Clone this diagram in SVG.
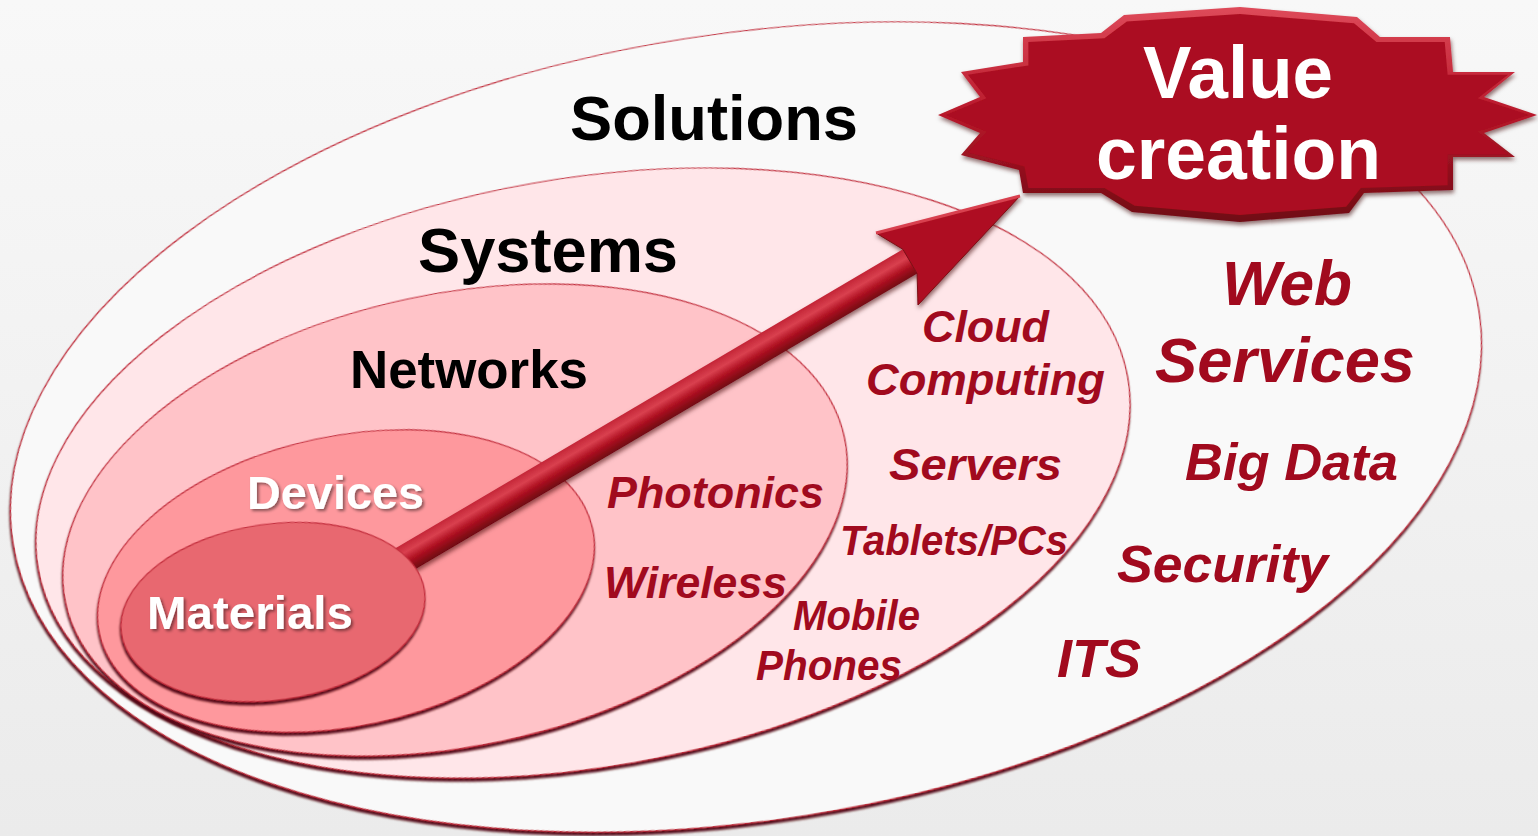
<svg xmlns="http://www.w3.org/2000/svg" width="1538" height="836" viewBox="0 0 1538 836">
<defs>
<linearGradient id="bg" x1="0" y1="0" x2="0" y2="1">
<stop offset="0" stop-color="#f8f8f8"/><stop offset="1" stop-color="#ebebeb"/>
</linearGradient>
<linearGradient id="shaft" gradientUnits="userSpaceOnUse" x1="402.9" y1="543.9" x2="417.1" y2="568.1">
<stop offset="0" stop-color="#c52738"/><stop offset="0.3" stop-color="#d9404f"/><stop offset="0.6" stop-color="#b01222"/><stop offset="1" stop-color="#6e0610"/>
</linearGradient>
<linearGradient id="bevel" x1="0" y1="0" x2="0" y2="1">
<stop offset="0" stop-color="#de4a5a"/><stop offset="0.5" stop-color="#b8192b"/><stop offset="1" stop-color="#6f0812"/>
</linearGradient>
<filter id="esh" x="-5%" y="-5%" width="110%" height="115%">
<feDropShadow dx="-1" dy="3" stdDeviation="1.1" flood-color="#4d0309" flood-opacity="0.95"/>
</filter>
<filter id="ash" x="-10%" y="-10%" width="120%" height="130%">
<feDropShadow dx="1" dy="3" stdDeviation="2" flood-color="#3a0005" flood-opacity="0.55"/>
</filter>
<filter id="tsh" x="-10%" y="-20%" width="120%" height="150%">
<feDropShadow dx="2" dy="2" stdDeviation="1.5" flood-color="#000" flood-opacity="0.45"/>
</filter>
</defs>
<style>
.ell{stroke:#c32c3c;stroke-width:1.2;filter:url(#esh)}
.lbl{font-family:"Liberation Sans",Arial,sans-serif;font-weight:bold}
.blk{fill:#000}
.wht{fill:#fff;filter:url(#tsh)}
.red{fill:#a10a1e;font-style:italic}
</style>
<rect x="0" y="0" width="1538" height="836" fill="url(#bg)"/>

<g id="solutions">
<ellipse class="ell" cx="746" cy="427" rx="742" ry="393" transform="rotate(-9 746 427)" fill="#f9f9f9"/>
<text class="lbl blk" x="570" y="140" font-size="63" textLength="288" lengthAdjust="spacingAndGlyphs">Solutions</text>
<text class="lbl red" x="1222" y="305" font-size="63" textLength="130" lengthAdjust="spacingAndGlyphs">Web</text>
<text class="lbl red" x="1155" y="382" font-size="63" textLength="260" lengthAdjust="spacingAndGlyphs">Services</text>
<text class="lbl red" x="1185" y="480" font-size="52" textLength="213" lengthAdjust="spacingAndGlyphs">Big Data</text>
<text class="lbl red" x="1117" y="582" font-size="52" textLength="211" lengthAdjust="spacingAndGlyphs">Security</text>
<text class="lbl red" x="1057" y="677" font-size="54" textLength="84" lengthAdjust="spacingAndGlyphs">ITS</text>
</g>

<g id="systems">
<ellipse class="ell" cx="583" cy="473" rx="553" ry="294" transform="rotate(-10 583 473)" fill="#ffe6e9"/>
<text class="lbl blk" x="418" y="272" font-size="63" textLength="260" lengthAdjust="spacingAndGlyphs">Systems</text>
<text class="lbl red" x="922" y="342" font-size="45" textLength="127" lengthAdjust="spacingAndGlyphs">Cloud</text>
<text class="lbl red" x="866" y="395" font-size="45" textLength="239" lengthAdjust="spacingAndGlyphs">Computing</text>
<text class="lbl red" x="889" y="480" font-size="45" textLength="173" lengthAdjust="spacingAndGlyphs">Servers</text>
<text class="lbl red" x="840" y="555" font-size="42" textLength="228" lengthAdjust="spacingAndGlyphs">Tablets/PCs</text>
<text class="lbl red" x="793" y="630" font-size="42" textLength="127" lengthAdjust="spacingAndGlyphs">Mobile</text>
<text class="lbl red" x="756" y="680" font-size="42" textLength="146" lengthAdjust="spacingAndGlyphs">Phones</text>
</g>

<g id="networks">
<ellipse class="ell" cx="455" cy="520" rx="398" ry="226" transform="rotate(-12 455 520)" fill="#ffc3c8"/>
<text class="lbl blk" x="350" y="388" font-size="53" textLength="238" lengthAdjust="spacingAndGlyphs">Networks</text>
<text class="lbl red" x="607" y="508" font-size="44" textLength="217" lengthAdjust="spacingAndGlyphs">Photonics</text>
<text class="lbl red" x="604" y="598" font-size="44" textLength="183" lengthAdjust="spacingAndGlyphs">Wireless</text>
</g>

<g id="devices">
<ellipse class="ell" cx="346" cy="581" rx="252" ry="145" transform="rotate(-12 346 581)" fill="#fe989d"/>
<text class="lbl wht" x="247" y="509" font-size="47" textLength="177" lengthAdjust="spacingAndGlyphs">Devices</text>
</g>

<g id="connectors" filter="url(#ash)">
<polygon points="273.6,620.1 902.9,249.3 917.1,273.5 287.8,644.3" fill="url(#shaft)"/>
<polygon points="876,233 1020,196 918,305 917.1,273.5 902.9,249.3" fill="#ae1121" stroke="#7d0913" stroke-width="1" stroke-linejoin="miter"/>
<polyline points="876,233 1020,196" fill="none" stroke="#d8404f" stroke-width="3"/>
</g>

<g id="materials">
<ellipse class="ell" cx="273" cy="612" rx="153" ry="88" transform="rotate(-8 273 612)" fill="#e8686f"/>
<text class="lbl wht" x="147" y="629" font-size="47" textLength="206" lengthAdjust="spacingAndGlyphs">Materials</text>
</g>

<g id="value-creation" filter="url(#ash)">
<polygon fill="url(#bevel)" points="1023,37 1101,33 1124,15 1240,7 1357,17 1380,37 1450,37 1453,72 1515,72 1484,97 1537,115 1484,133 1515,157 1453,157 1453,190 1364,193 1349,213 1240,222 1132,212 1101,193 1023,193 1019,170 961,155 980,133 938,115 980,97 961,72 1023,62"/>
<polygon fill="#ab0f20" transform="translate(1238 115) scale(0.975 0.935) translate(-1238 -115)" points="1023,37 1101,33 1124,15 1240,7 1357,17 1380,37 1450,37 1453,72 1515,72 1484,97 1537,115 1484,133 1515,157 1453,157 1453,190 1364,193 1349,213 1240,222 1132,212 1101,193 1023,193 1019,170 961,155 980,133 938,115 980,97 961,72 1023,62"/>
<text class="lbl" fill="#fff" x="1143" y="98" font-size="74" textLength="190" lengthAdjust="spacingAndGlyphs">Value</text>
<text class="lbl" fill="#fff" x="1096" y="179" font-size="74" textLength="285" lengthAdjust="spacingAndGlyphs">creation</text>
</g>
</svg>
